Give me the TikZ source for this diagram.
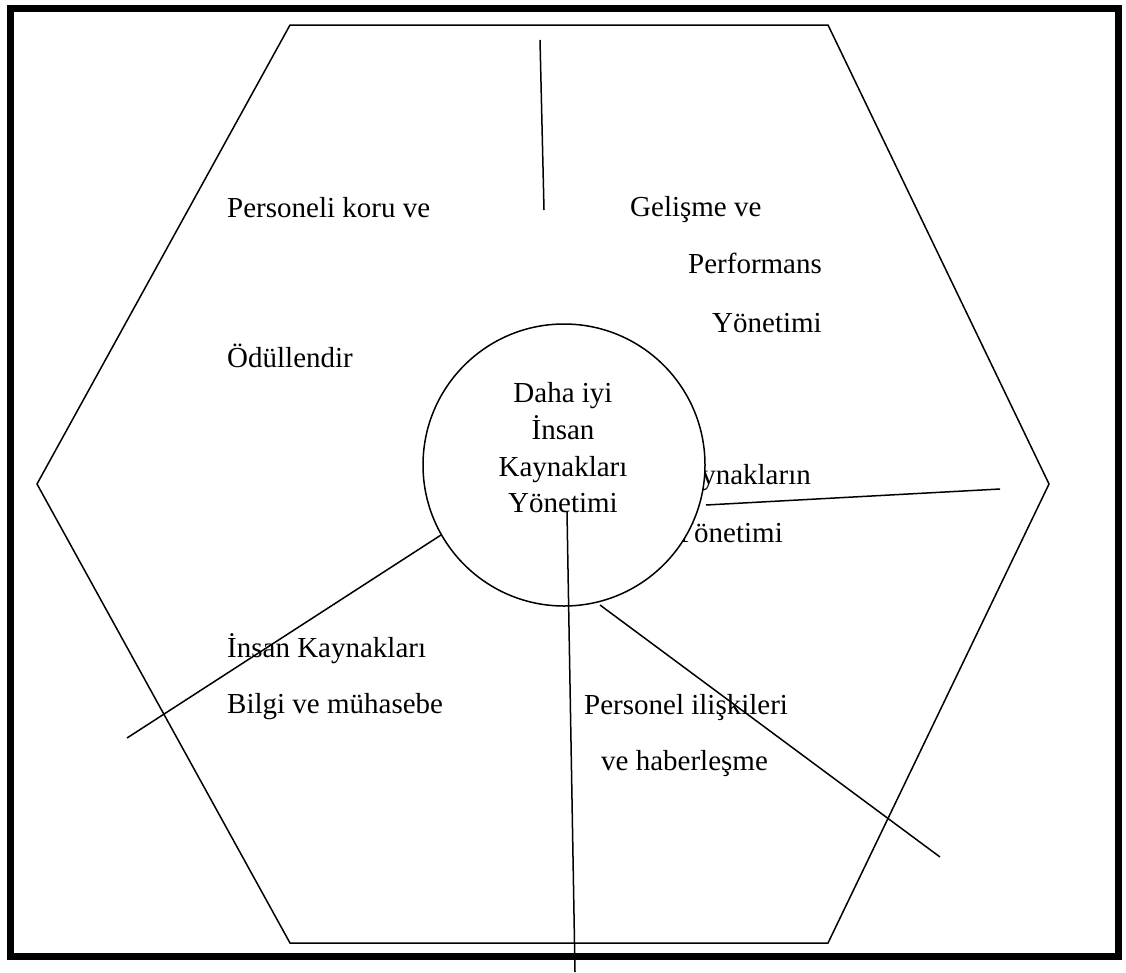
\documentclass[tikz,border=0pt]{standalone}
\usepackage{fontspec}
\setmainfont{Liberation Serif}
\begin{document}
\begin{tikzpicture}[x=1pt,y=-1pt]
	\tikzstyle{frame}=[draw=black, line width=7pt]
	\tikzstyle{edge}=[draw=black, line width=1.5pt]
	\tikzstyle{lbl}=[inner sep=0pt, anchor=base west, font=\fontsize{29}{35}\selectfont]
	\tikzstyle{lblr}=[lbl, anchor=base east]
	\tikzstyle{core}=[circle, draw=black, line width=1.5pt, fill=white, minimum size=282pt, inner sep=0pt]

	\useasboundingbox (0,0) rectangle (1126,972);
	\path[frame] (10.5,8.5) rectangle (1118.5,956.5);

	% hexagon
	\coordinate (h1) at (290,25);
	\coordinate (h2) at (828,25);
	\coordinate (h3) at (1049,484);
	\coordinate (h4) at (828,943);
	\coordinate (h5) at (290,943);
	\coordinate (h6) at (37,484);
	\path[edge, line join=miter] (h1) -- (h2) -- (h3) -- (h4) -- (h5) -- (h6) -- cycle;

	% sector texts
	\node [lbl] (t1) at (227,217) {Personeli koru ve};
	\node [lbl] (t2) at (227,367) {Ödüllendir};
	\node [lbl] (t3) at (630,216) {Gelişme ve};
	\node [lbl] (t4) at (688,273) {Performans};
	\node [lbl] (t5) at (712,332) {Yönetimi};
	\node [lblr] (t6) at (811,484) {Kaynakların};
	\node [lblr] (t7) at (783,542) {Yönetimi};
	\node [lbl] (t8) at (227,657) {İnsan Kaynakları};
	\node [lbl] (t9) at (227,713) {Bilgi ve mühasebe};
	\node [lbl] (t10) at (584,714) {Personel ilişkileri};
	\node [lbl] (t11) at (601,770) {ve haberleşme};

	% centre
	\node [core] (hrm) at (564,465) {};
	\node [align=center, inner sep=0pt, font=\fontsize{29}{36.7}\selectfont] (hrmtext) at (563,448)
		{Daha iyi\\İnsan\\Kaynakları\\Yönetimi};

	% dividers
	\coordinate (d1a) at (540,40);
	\coordinate (d1b) at (544,210);
	\coordinate (d2a) at (706,505);
	\coordinate (d2b) at (1000,489);
	\coordinate (d3a) at (600,605);
	\coordinate (d3b) at (940,857);
	\coordinate (d4a) at (567,512);
	\coordinate (d4b) at (575,972);
	\coordinate (d5a) at (441,535);
	\coordinate (d5b) at (127,738);
	\path[edge] (d1a) -- (d1b);
	\path[edge] (d2a) -- (d2b);
	\path[edge] (d3a) -- (d3b);
	\path[edge] (d4a) -- (d4b);
	\path[edge] (d5a) -- (d5b);

\end{tikzpicture}
\end{document}
